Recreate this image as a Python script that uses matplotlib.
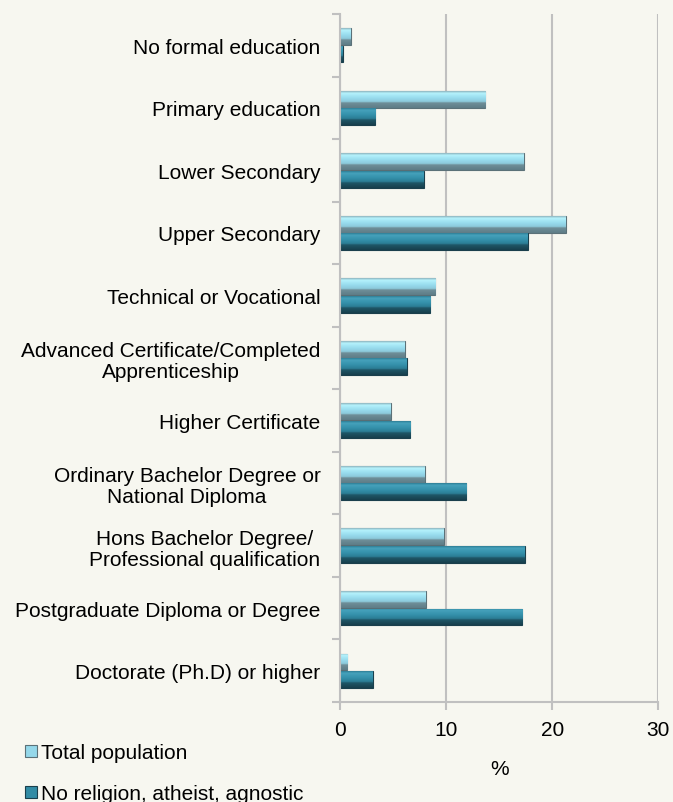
import numpy as np
import matplotlib
matplotlib.use("Agg")
from matplotlib import pyplot as plt
from matplotlib.colors import LinearSegmentedColormap

plt.rcParams['font.family'] = ['Liberation Sans', 'DejaVu Sans']

# 数据
categories = [
    "No formal education",
    "Primary education",
    "Lower Secondary",
    "Upper Secondary",
    "Technical or Vocational",
    "Advanced Certificate/Completed\nApprenticeship",
    "Higher Certificate",
    "Ordinary Bachelor Degree or\nNational Diploma",
    "Hons Bachelor Degree/\nProfessional qualification",
    "Postgraduate Diploma or Degree",
    "Doctorate (Ph.D) or higher",
]
total_pop = [1.0, 13.7, 17.3, 21.3, 9.0, 6.1, 4.8, 8.0, 9.8, 8.1, 0.7]
no_religion = [0.25, 3.3, 7.9, 17.7, 8.5, 6.3, 6.6, 11.9, 17.4, 17.2, 3.1]
series_names = ["Total population", "No religion, atheist, agnostic"]
xticks = [0, 10, 20, 30]

bg = '#F7F7F0'
grid_c = '#C0C0C0'

fig = plt.figure(figsize=(6.73, 8.03), dpi=100, facecolor=bg)
ax = fig.add_axes([0.5052, 0.1245, 0.4729, 0.8568], facecolor=bg)

y = np.arange(len(categories))
off = 0.14
h = 0.27

# 渐变色（上 -> 下）
cm_total = LinearSegmentedColormap.from_list(
    'tot', [(0, '#8FB4BE'), (0.12, '#B4F2FC'), (0.4, '#98DCEE'),
            (0.62, '#8CCADB'), (0.7, '#6F8F99'), (1, '#5E7C86')])
cm_norel = LinearSegmentedColormap.from_list(
    'nr', [(0, '#2F7F96'), (0.12, '#45A2BC'), (0.4, '#3490AA'),
           (0.62, '#2B7D95'), (0.7, '#1F5667'), (1, '#173F4C')])


def bevel_bars(ax, ypos, vals, cmap, edge, label):
    bars = ax.barh(ypos, vals, height=h, color=cmap(0.45), edgecolor=edge,
                   linewidth=0.8, label=label, zorder=3)
    grad = np.linspace(0, 1, 64).reshape(-1, 1)
    for p in bars.patches:
        x0, y0 = p.get_x(), p.get_y()
        w, hh = p.get_width(), p.get_height()
        im = ax.imshow(grad, cmap=cmap, aspect='auto', origin='upper',
                       extent=(x0, x0 + w, y0 + hh, y0), zorder=4)
        im.set_clip_path(p)
    return bars


b1 = bevel_bars(ax, y - off, total_pop, cm_total, '#5B7178', series_names[0])
b2 = bevel_bars(ax, y + off, no_religion, cm_norel, '#1A3F4C', series_names[1])

ax.set_xlim(0, 30)
ax.set_ylim(len(categories) - 0.5, -0.5)
ax.set_xticks(xticks)
ax.set_xticklabels([str(t) for t in xticks], fontsize=15)
ax.set_yticks(y)
ax.set_yticklabels(categories, fontsize=15, linespacing=1.15)
ax.set_yticks(np.arange(len(categories) + 1) - 0.5, minor=True)
ax.tick_params(axis='y', which='major', length=0, pad=14)
ax.tick_params(axis='y', which='minor', length=6, color=grid_c, width=1.5)
ax.tick_params(axis='x', length=6, color=grid_c, width=1.5, pad=7)
for lab in ax.get_yticklabels():
    lab.set_horizontalalignment('right')
    lab.set_multialignment('center')

ax.grid(axis='x', color=grid_c, linewidth=1.5, zorder=0)
ax.set_axisbelow(True)
for s in ['top', 'right']:
    ax.spines[s].set_visible(False)
for s in ['left', 'bottom']:
    ax.spines[s].set_color(grid_c)
    ax.spines[s].set_linewidth(1.5)
    ax.spines[s].set_zorder(5)

ax.set_xlabel('%', fontsize=15, labelpad=14)

fig.legend(handles=[b1, b2], loc='lower left', bbox_to_anchor=(0.025, -0.012),
           frameon=False, fontsize=15, handlelength=0.55, handleheight=0.55,
           handletextpad=0.2, labelspacing=1.05, borderaxespad=0)

fig.savefig('out.png', dpi=100, facecolor=bg)
